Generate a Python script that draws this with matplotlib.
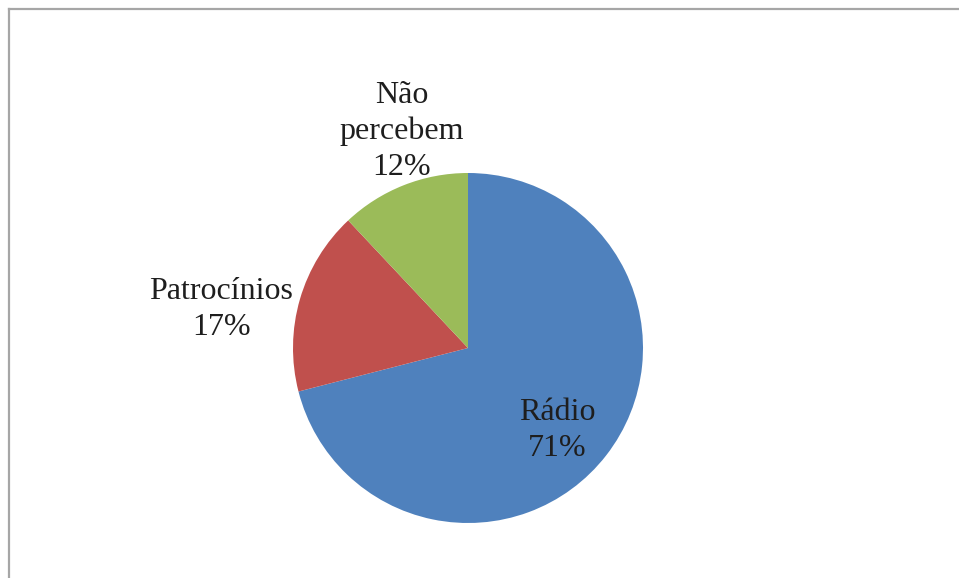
import matplotlib
matplotlib.use("Agg")
import matplotlib.pyplot as plt
from matplotlib.lines import Line2D

categories = ["Rádio", "Patrocínios", "Não\npercebem"]
values = [71, 17, 12]
colors = ["#4F81BD", "#C0504D", "#9BBB59"]
# label anchor points (in pie radius units)
label_pos = [(0.51, -0.472), (-1.41, 0.22), (-0.377, 1.237)]

W, H = 959, 578
fig = plt.figure(figsize=(W / 100, H / 100), dpi=100)
fig.patch.set_facecolor("white")

# chart-area frame (top and left edges)
frame_kw = dict(color="#a6a6a6", linewidth=1.6, transform=fig.transFigure)
fig.add_artist(Line2D([9 / W, 1.0], [1 - 9 / H, 1 - 9 / H], **frame_kw))
fig.add_artist(Line2D([9 / W, 9 / W], [0.0, 1 - 9 / H], **frame_kw))

cx, cy, r = 468, 348, 175
ax = fig.add_axes([(cx - r) / W, (H - cy - r) / H, 2 * r / W, 2 * r / H])
ax.pie(values, colors=colors, startangle=90, counterclock=False,
       radius=1, wedgeprops=dict(linewidth=0))
ax.set_xlim(-1, 1)
ax.set_ylim(-1, 1)
ax.set_aspect("auto")
ax.axis("off")

for name, val, (x, y) in zip(categories, values, label_pos):
    ax.text(x, y, f"{name}\n{val}%", ha="center", va="center",
            multialignment="center", family="Liberation Serif",
            fontsize=23, color="#1e1e1e", linespacing=1.32, clip_on=False)

fig.savefig("out.png", dpi=100, facecolor="white")
